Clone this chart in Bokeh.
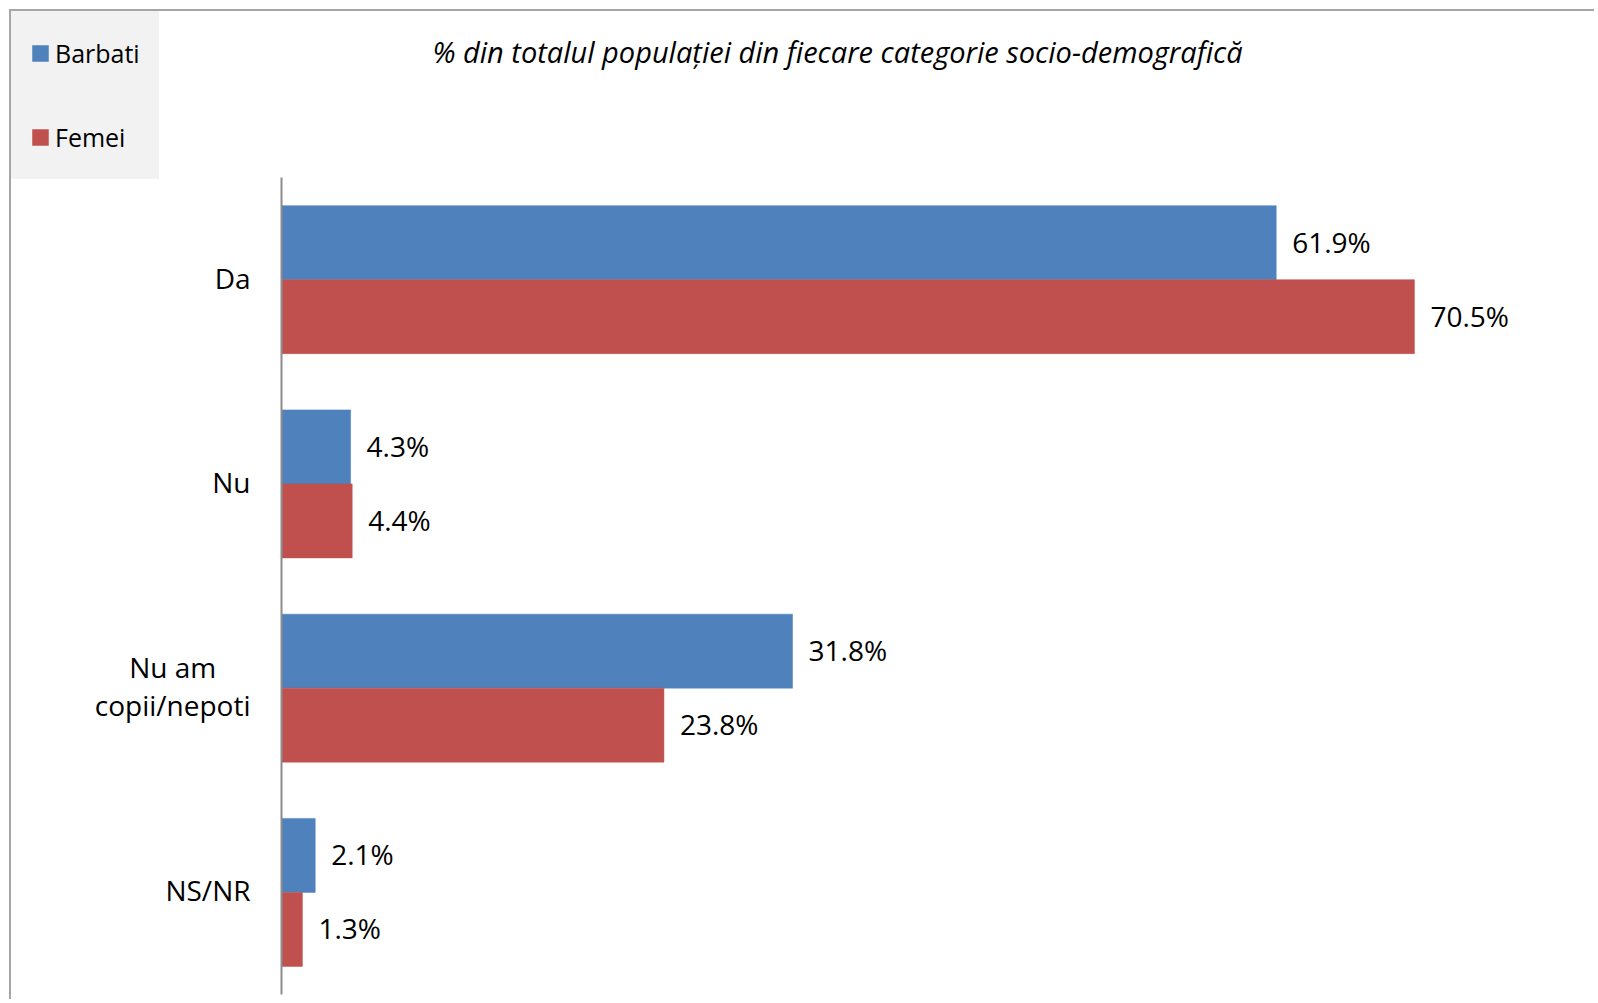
from bokeh.plotting import figure
from bokeh.models import Range1d, Legend, LegendItem, Label, ColumnDataSource, FixedTicker
from bokeh.core.properties import value
from bokeh.embed import file_html
from bokeh.resources import INLINE

categories = ["Da", "Nu", "Nu am copii/nepoti", "NS/NR"]
category_labels = ["Da", "Nu", "Nu am\ncopii/nepoti", "NS/NR"]
barbati = [61.9, 4.3, 31.8, 2.1]
femei = [70.5, 4.4, 23.8, 1.3]
series_names = ["Barbati", "Femei"]
title_text = "% din totalul populației din fiecare categorie socio-demografică"

BLUE = "#4f81bd"
RED = "#c0504d"
FONT = "Open Sans"

# layout (page pixels)
W, H = 1585, 990
ORIGIN = 11            # canvas top-left on the page
AXIS_X = 281           # page x of value 0
AXIS_TOP, AXIS_BOTTOM = 177, 994
PX_PER_PCT = 16.07

n = len(categories)
px_per_cat = (AXIS_BOTTOM - AXIS_TOP) / n
x_start = -(AXIS_X - ORIGIN) / PX_PER_PCT
x_end = (ORIGIN + W - AXIS_X) / PX_PER_PCT
y_start = -(ORIGIN + H - AXIS_BOTTOM) / px_per_cat
y_end = n + (AXIS_TOP - ORIGIN) / px_per_cat

centers = [n - i - 0.5 for i in range(n)]
bh = 74 / px_per_cat

src = ColumnDataSource(dict(
    cat=categories,
    lab=category_labels,
    yc=centers,
    yb=[c + bh / 2 for c in centers],
    yf=[c - bh / 2 for c in centers],
    b=barbati,
    f=femei,
    bl=[f"{v:.1f}%" for v in barbati],
    fl=[f"{v:.1f}%" for v in femei],
))

p = figure(
    width=W, height=H,
    x_range=Range1d(x_start, x_end),
    y_range=Range1d(y_start, y_end),
    output_backend="svg", toolbar_location=None,
    min_border=0,
)
p.styles = {"margin-left": "9px", "margin-top": "9px",
            "border-left": "2px solid #a6a6a6", "border-top": "2px solid #a6a6a6"}
p.outline_line_color = None
p.xgrid.visible = False
p.ygrid.visible = False
p.xaxis.visible = False

rb = p.hbar(y="yb", right="b", left=0, height=bh, source=src,
            fill_color=BLUE, line_color=BLUE, line_width=0.5)
rf = p.hbar(y="yf", right="f", left=0, height=bh, source=src,
            fill_color=RED, line_color=RED, line_width=0.5)

p.text(x="b", y="yb", text="bl", source=src, x_offset=16, y_offset=-1,
       text_align="left", text_baseline="middle",
       text_font=value(FONT), text_font_size="28px", text_color="#000000")
p.text(x="f", y="yf", text="fl", source=src, x_offset=16, y_offset=-1,
       text_align="left", text_baseline="middle",
       text_font=value(FONT), text_font_size="28px", text_color="#000000")

# category labels (box anchored right, lines centred)
p.text(x=0, y="yc", text="lab", source=src, x_offset=-31, y_offset=-2,
       anchor="center_right", text_align="center", text_baseline="middle",
       text_line_height=1.0,
       text_font=value(FONT), text_font_size="28px", text_color="#000000")

yax = p.yaxis[0]
yax.fixed_location = 0
yax.bounds = (0, n)
yax.ticker = FixedTicker(ticks=[])
yax.axis_line_color = "#8c8c8c"
yax.axis_line_width = 2
yax.major_tick_line_color = None
yax.minor_tick_line_color = None
yax.major_label_text_font_size = "0px"

legend = Legend(
    items=[LegendItem(label=series_names[0], renderers=[rb]),
           LegendItem(label=series_names[1], renderers=[rf])],
    location="top_left", margin=0,
    background_fill_color="#f2f2f2", background_fill_alpha=1,
    border_line_color="#f2f2f2", border_line_width=1,
    label_text_font=FONT, label_text_font_size="25px", label_text_color="#000000",
    glyph_width=20, glyph_height=20, label_height=46,
    label_standoff=5, padding=18, spacing=38,
)
p.add_layout(legend, "center")

title = Label(x=826, y=950, x_units="screen", y_units="screen", text=title_text,
              text_align="center", text_baseline="middle",
              text_font=FONT, text_font_style="italic", text_font_size="29px",
              text_color="#000000")
p.add_layout(title)

open("out.html", "w").write(file_html(p, INLINE))
